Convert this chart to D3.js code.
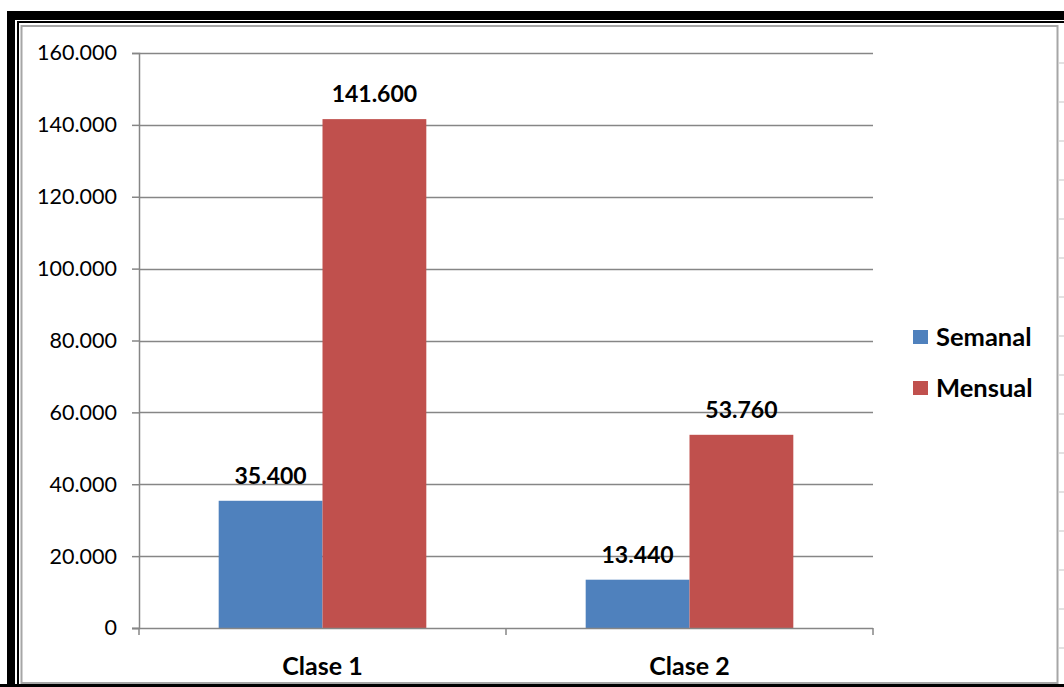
<!DOCTYPE html>
<html>
<head>
<meta charset="utf-8">
<script src="https://cdn.jsdelivr.net/npm/d3@7"></script>
<style>
  html, body { margin: 0; padding: 0; background: #fff; }
  svg { display: block; }
  text { font-family: "Lato", "Open Sans", sans-serif; fill: #000; }
</style>
</head>
<body>
<svg id="chart" width="1064" height="687"></svg>
<script>
// Chart data
const categories = ["Clase 1", "Clase 2"];
const seriesNames = ["Semanal", "Mensual"];
const semanal = [35400, 13440];
const mensual = [141600, 53760];
const yTicks = [0, 20000, 40000, 60000, 80000, 100000, 120000, 140000, 160000];
const seriesColors = ["#4F81BD", "#C0504D"];

const svg = d3.select("#chart");
const W = 1064, H = 687;

// Frame: thick black outer band, thin inner rule, grey chart-area border
svg.append("rect").attr("x", 0).attr("y", 0).attr("width", W).attr("height", H).attr("fill", "#fff");
svg.append("rect").attr("x", 7).attr("y", 11).attr("width", W - 7).attr("height", 9).attr("fill", "#000");
svg.append("rect").attr("x", 7).attr("y", 11).attr("width", 8).attr("height", H - 11).attr("fill", "#000");
svg.append("rect").attr("x", 0).attr("y", 684).attr("width", W).attr("height", 3).attr("fill", "#000");
svg.append("line").attr("x1", 17).attr("x2", W).attr("y1", 22).attr("y2", 22).attr("stroke", "#000").attr("stroke-width", 2);
svg.append("line").attr("x1", 18).attr("x2", 18).attr("y1", 22).attr("y2", 684).attr("stroke", "#000").attr("stroke-width", 2);
svg.append("rect").attr("x", 21.5).attr("y", 26).attr("width", 1036).attr("height", 657)
  .attr("fill", "none").attr("stroke", "#a6a6a6").attr("stroke-width", 2);

// Spreadsheet cell rules visible past the chart edge
const sheetRows = d3.range(63, 684, 39);
svg.append("g").selectAll("line").data(sheetRows).join("line")
  .attr("x1", 1059).attr("x2", W).attr("y1", d => d).attr("y2", d => d)
  .attr("stroke", "#d9d9d9").attr("stroke-width", 1.5);

// Plot area
const plot = { left: 139, right: 873, top: 53, bottom: 628 };

const x0 = d3.scaleBand().domain(categories).range([plot.left, plot.right]).paddingInner(0).paddingOuter(0);
const x1 = d3.scaleBand().domain(seriesNames).range([0, x0.bandwidth()]).paddingInner(0).paddingOuter(0.7676);
const y = d3.scaleLinear().domain([0, 160000]).range([plot.bottom, plot.top]);

const fmt = v => d3.format(",")(v).replace(/,/g, ".");

// Gridlines
svg.append("g").selectAll("line").data(yTicks.filter(d => d > 0)).join("line")
  .attr("x1", plot.left).attr("x2", plot.right)
  .attr("y1", d => Math.round(y(d)) + 0.5).attr("y2", d => Math.round(y(d)) + 0.5)
  .attr("stroke", "#868686").attr("stroke-width", 1.5);

// Bars
const rows = categories.map((c, i) => ({ cat: c, values: [semanal[i], mensual[i]] }));
const groups = svg.append("g").selectAll("g").data(rows).join("g")
  .attr("transform", d => `translate(${x0(d.cat)},0)`);
groups.selectAll("rect").data(d => d.values.map((v, j) => ({ name: seriesNames[j], v, j }))).join("rect")
  .attr("x", d => x1(d.name)).attr("width", x1.bandwidth())
  .attr("y", d => y(d.v)).attr("height", d => y(0) - y(d.v))
  .attr("fill", d => seriesColors[d.j]);

// Value labels
groups.selectAll("text.val").data(d => d.values.map((v, j) => ({ name: seriesNames[j], v, j }))).join("text")
  .attr("class", "val")
  .attr("x", d => x1(d.name) + x1.bandwidth() / 2)
  .attr("y", d => y(d.v) - 17)
  .attr("text-anchor", "middle")
  .attr("font-size", 23).attr("font-weight", 700)
  .text(d => fmt(d.v));

// Y axis
const yAxis = d3.axisLeft(y).tickValues(yTicks).tickSize(7).tickPadding(15).tickFormat(fmt);
const gy = svg.append("g").attr("transform", `translate(${plot.left},0)`).call(yAxis);
gy.select(".domain").attr("stroke", "#868686").attr("stroke-width", 1.5);
gy.selectAll(".tick line").attr("stroke", "#868686").attr("stroke-width", 1.5);
gy.selectAll(".tick text").attr("font-size", 21.5).attr("font-family", "Lato, 'Open Sans', sans-serif").attr("fill", "#000");

// X axis with boundary ticks
const gx = svg.append("g").attr("transform", `translate(0,${plot.bottom})`);
gx.append("line").attr("x1", plot.left - 7).attr("x2", plot.right).attr("y1", 0.5).attr("y2", 0.5)
  .attr("stroke", "#868686").attr("stroke-width", 1.5);
const bounds = categories.map(c => x0(c)).concat([plot.right]);
gx.selectAll("line.tk").data(bounds).join("line").attr("class", "tk")
  .attr("x1", d => d).attr("x2", d => d).attr("y1", 0).attr("y2", 7)
  .attr("stroke", "#868686").attr("stroke-width", 1.5);
gx.selectAll("text").data(categories).join("text")
  .attr("x", d => x0(d) + x0.bandwidth() / 2).attr("y", 47)
  .attr("text-anchor", "middle").attr("font-size", 25).attr("font-weight", 700)
  .text(d => d);

// Legend
const legend = svg.append("g").selectAll("g").data(seriesNames).join("g")
  .attr("transform", (d, i) => `translate(913,${330 + i * 51})`);
legend.append("rect").attr("width", 15).attr("height", 14).attr("fill", (d, i) => seriesColors[i]);
legend.append("text").attr("x", 23).attr("y", 16).attr("font-size", 25.5).attr("font-weight", 700).text(d => d);
</script>
</body>
</html>
